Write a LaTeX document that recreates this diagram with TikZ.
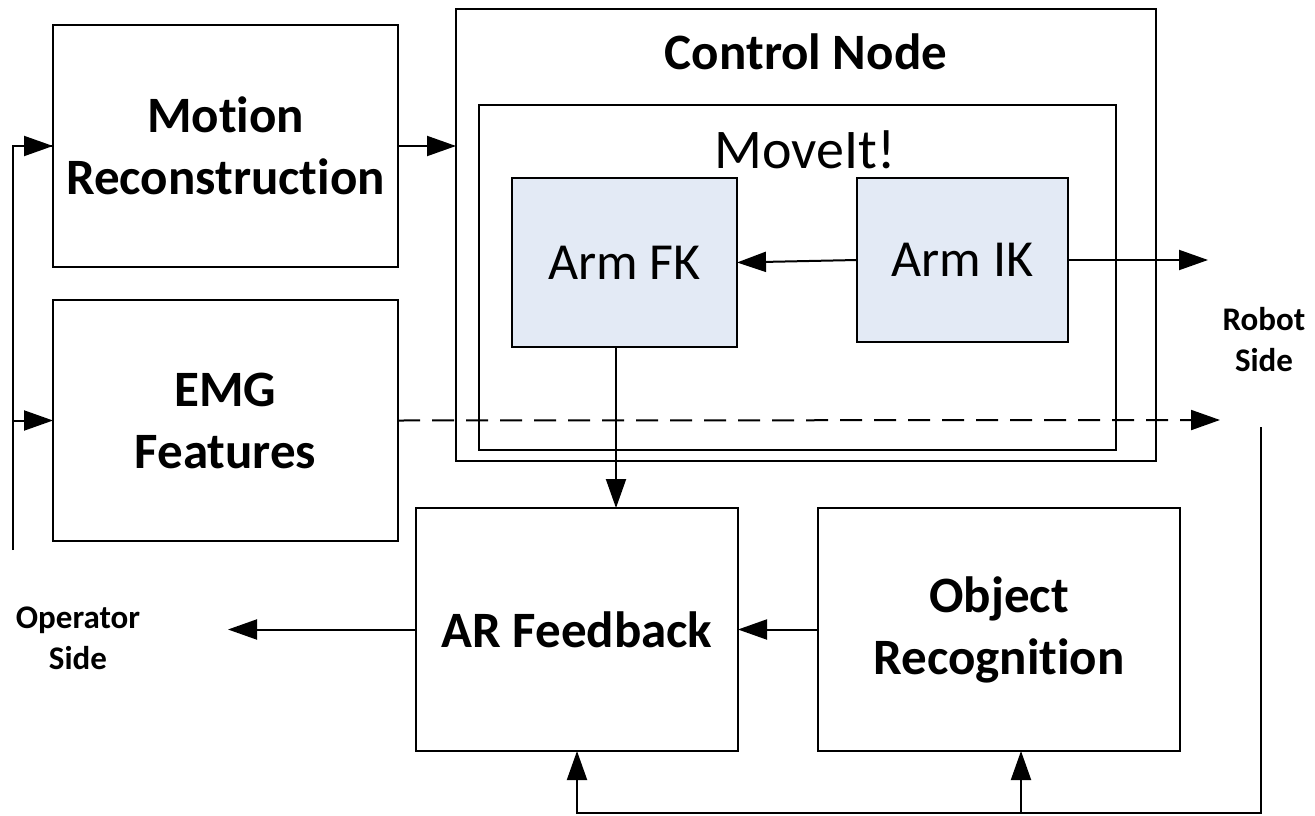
\documentclass[tikz,border=0pt]{standalone}
\usepackage{fontspec}
\setmainfont{Carlito}[Ligatures={NoCommon}]
\usetikzlibrary{arrows.meta}
\definecolor{boxblue}{RGB}{227,234,245}
\tikzset{
  box/.style={draw=black, line width=2.5pt, rectangle, inner sep=0pt, outer sep=0pt, align=center},
  bigbold/.style={font=\fontsize{51}{62}\selectfont\bfseries},
  bigreg/.style={font=\fontsize{52}{62}\selectfont},
  sidetext/.style={font=\fontsize{33}{41}\selectfont\bfseries, align=center},
  arr/.style={line width=2pt, -{Triangle[length=29pt,width=20pt]}},
  ln/.style={line width=2pt},
  dashline/.style={line width=2pt, dash pattern=on 22pt off 12pt, -{Triangle[length=29pt,width=20pt]}}
}
\begin{document}
\begin{tikzpicture}[x=1pt,y=-1pt]
\useasboundingbox (0,0) rectangle (1315,816);
% boxes
\node[box, bigbold, minimum width=345pt, minimum height=242pt] (mr) at (225.5,146) {Motion\\Reconstruction};
\node[box, bigbold, minimum width=345pt, minimum height=241pt] (emg) at (225.5,420.5) {EMG\\Features};
\node[box, minimum width=700pt, minimum height=452pt] (cn) at (806,235) {};
\node[bigbold, inner sep=0pt] (cnt) at (806,52) {Control Node};
\node[box, minimum width=637pt, minimum height=345pt] (mv) at (797.5,277.5) {};
\node[inner sep=0pt, font=\fontsize{56}{62}\selectfont] (mvt) at (805,150) {MoveIt!};
\node[box, bigreg, fill=boxblue, minimum width=225pt, minimum height=169pt] (fk) at (624.5,262.5) {Arm FK};
\node[box, bigreg, fill=boxblue, minimum width=211pt, minimum height=164pt] (ik) at (962.5,260) {Arm IK};
\node[box, bigbold, minimum width=322pt, minimum height=243pt] (ar) at (577,629.5) {AR Feedback};
\node[box, bigbold, minimum width=362pt, minimum height=243pt] (obj) at (999,629.5) {Object\\Recognition};
% side labels
\node[sidetext] (robot) at (1264,340) {Robot\\Side};
\node[sidetext] (oper) at (78,638) {Operator\\Side};
% coordinates
\coordinate (lb) at (13,550);
\coordinate (rout) at (1208,260);
\coordinate (dout) at (1220,420);
\coordinate (rb) at (1261,427);
\coordinate (bot) at (1261,813);
\coordinate (objin) at ([xshift=22pt]obj.south);
\coordinate (arin) at ([yshift=-40pt]ar.south);
\coordinate (opout) at (228,629.5);
% connectors
\draw[ln] (lb) |- (mr.west);
\draw[arr] ([xshift=-30pt]mr.west) -- (mr.west);
\draw[arr] (lb |- emg.west) -- (emg.west);
\draw[arr] (mr.east) -- (mr.east -| cn.west);
\draw[arr] (ik.west) -- (fk.east);
\draw[arr] (ik.east) -- (rout);
\draw[dashline] (emg.east) -- (dout);
\draw[arr] ([xshift=-8.5pt]fk.south) -- ([xshift=-8.5pt]fk.south |- ar.north);
\draw[ln] (rb) -- (bot) -| (arin);
\draw[arr] (arin) -- (ar.south);
\draw[arr] (objin |- bot) -- (objin);
\draw[arr] (obj.west) -- (ar.east);
\draw[arr] (ar.west) -- (opout);
\end{tikzpicture}
\end{document}
